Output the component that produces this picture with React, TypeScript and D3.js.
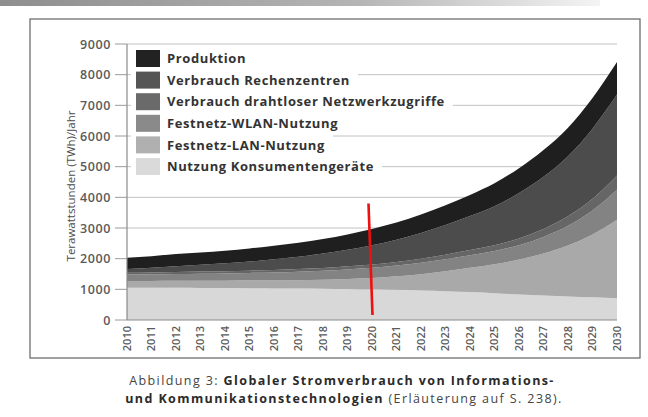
import React, { useEffect, useRef } from "react";
import * as d3 from "d3";

const years = [2010, 2011, 2012, 2013, 2014, 2015, 2016, 2017, 2018, 2019, 2020, 2021, 2022, 2023, 2024, 2025, 2026, 2027, 2028, 2029, 2030];
const konsum = [1050, 1050, 1050, 1045, 1040, 1035, 1030, 1025, 1020, 1010, 1000, 985, 965, 940, 910, 870, 830, 800, 770, 740, 710];
const lan = [220, 225, 230, 235, 240, 250, 260, 275, 295, 330, 370, 440, 530, 650, 790, 950, 1140, 1370, 1660, 2050, 2560];
const wlan = [210, 215, 220, 230, 240, 250, 260, 275, 290, 310, 330, 350, 370, 390, 410, 430, 470, 540, 640, 780, 980];
const drahtlos = [60, 62, 65, 68, 70, 75, 80, 85, 90, 100, 110, 120, 135, 150, 170, 190, 220, 260, 310, 380, 460];
const rechenzentren = [120, 148, 190, 222, 260, 295, 350, 405, 470, 540, 630, 725, 840, 970, 1110, 1270, 1480, 1700, 1960, 2290, 2640];
const produktion = [370, 380, 395, 400, 410, 425, 440, 455, 475, 500, 530, 560, 600, 640, 690, 750, 810, 870, 930, 1000, 1060];

const seriesKeys = ["konsum", "lan", "wlan", "drahtlos", "rechenzentren", "produktion"];
const seriesValues = [konsum, lan, wlan, drahtlos, rechenzentren, produktion];
const seriesColors = ["#d8d8d8", "#a9a9a9", "#838383", "#666666", "#4c4c4c", "#1f1f1f"];
const legendLabels = [
  "Produktion",
  "Verbrauch Rechenzentren",
  "Verbrauch drahtloser Netzwerkzugriffe",
  "Festnetz-WLAN-Nutzung",
  "Festnetz-LAN-Nutzung",
  "Nutzung Konsumentengeräte",
];
const legendColors = ["#222222", "#555555", "#6a6a6a", "#8a8a8a", "#b0b0b0", "#dadada"];
const yTicks = [0, 1000, 2000, 3000, 4000, 5000, 6000, 7000, 8000, 9000];
const markerYear = 2020;
const markerTop = 3800;

export default function App() {
  const ref = useRef<SVGSVGElement | null>(null);

  useEffect(() => {
    const svg = d3.select(ref.current);
    svg.selectAll("*").remove();
    const W = 648, H = 417;
    const left = 127, right = 617, top = 44, bottom = 320;
    const x = d3.scaleLinear().domain([2010, 2030]).range([left, right]);
    const y = d3.scaleLinear().domain([0, 9000]).range([bottom, top]);
    const font = "'Open Sans', 'DejaVu Sans', sans-serif";

    svg.append("rect").attr("width", W).attr("height", H).attr("fill", "#ffffff");

    const defs = svg.append("defs");
    const g1 = defs.append("linearGradient").attr("id", "topbar").attr("x1", "0").attr("x2", "1");
    g1.append("stop").attr("offset", "0").attr("stop-color", "#8e8e8e");
    g1.append("stop").attr("offset", "0.6").attr("stop-color", "#b5b5b5");
    g1.append("stop").attr("offset", "1").attr("stop-color", "#f4f4f4");
    svg.append("rect").attr("x", 0).attr("y", 0).attr("width", 600).attr("height", 6).attr("fill", "url(#topbar)");

    // frame
    svg.append("rect").attr("x", 30).attr("y", 19).attr("width", 610).attr("height", 339)
      .attr("fill", "none").attr("stroke", "#6e6e6e").attr("stroke-width", 1.3);

    // gridlines
    const grid = svg.append("g");
    yTicks.filter((t) => t > 0).forEach((t) => {
      grid.append("line").attr("x1", left).attr("x2", right).attr("y1", y(t)).attr("y2", y(t))
        .attr("stroke", "#c2c2c2").attr("stroke-width", 1);
    });

    // stacked areas
    const rows = years.map((yr, i) => {
      const r: any = { year: yr };
      seriesKeys.forEach((k, j) => (r[k] = seriesValues[j][i]));
      return r;
    });
    const stack = d3.stack().keys(seriesKeys);
    const layers = stack(rows as any);
    const area = d3.area<any>()
      .x((d: any) => x(d.data.year))
      .y0((d: any) => y(d[0]))
      .y1((d: any) => y(d[1]))
      .curve(d3.curveMonotoneX);
    svg.append("g").selectAll("path").data(layers).join("path")
      .attr("d", area as any)
      .attr("fill", (_d: any, i: number) => seriesColors[i]);

    // axes lines
    svg.append("line").attr("x1", left).attr("x2", left).attr("y1", top).attr("y2", bottom)
      .attr("stroke", "#8a8a8a").attr("stroke-width", 1.2);
    svg.append("line").attr("x1", left).attr("x2", right).attr("y1", bottom).attr("y2", bottom)
      .attr("stroke", "#8a8a8a").attr("stroke-width", 1.2);

    // y ticks
    const yt = svg.append("g");
    yTicks.forEach((t) => {
      yt.append("line").attr("x1", 115).attr("x2", left).attr("y1", y(t)).attr("y2", y(t))
        .attr("stroke", "#9a9a9a").attr("stroke-width", 1);
      yt.append("text").attr("x", 111).attr("y", y(t)).attr("dy", "0.36em")
        .attr("text-anchor", "end").attr("font-family", font).attr("font-size", 12.5)
        .attr("font-weight", 600).attr("fill", "#5a5a5a").attr("letter-spacing", 0.6).text(String(t));
    });

    // x ticks
    const xt = svg.append("g");
    years.forEach((yr) => {
      xt.append("text")
        .attr("transform", `translate(${x(yr)},326) rotate(-90)`)
        .attr("dy", "0.36em").attr("text-anchor", "end")
        .attr("font-family", font).attr("font-size", 11).attr("font-weight", 600)
        .attr("fill", "#5a5a5a").text(String(yr));
    });

    // y title
    svg.append("text").attr("transform", `translate(71,186) rotate(-90)`)
      .attr("text-anchor", "middle").attr("dy", "0.36em")
      .attr("font-family", font).attr("font-size", 11.5).attr("fill", "#4a4a4a")
      .text("Terawattstunden (TWh)/Jahr");

    // legend
    const lg = svg.append("g");
    legendLabels.forEach((lab, i) => {
      const cy = 58.5 + i * 21.6;
      const bg = lg.append("rect").attr("x", 131).attr("y", cy - 10.8).attr("height", 21.6).attr("fill", "#ffffff");
      lg.append("rect").attr("x", 136).attr("y", cy - 8.5).attr("width", 24).attr("height", 17)
        .attr("fill", legendColors[i]);
      const tx = lg.append("text").attr("x", 167).attr("y", cy).attr("dy", "0.36em")
        .attr("font-family", font).attr("font-size", 13).attr("font-weight", 700)
        .attr("fill", "#333333").attr("letter-spacing", 0.6).text(lab);
      const w = (tx.node() as SVGTextElement).getComputedTextLength();
      bg.attr("width", 167 + w + 8 - 131);
    });

    // red marker
    svg.append("line")
      .attr("x1", x(markerYear) - 3.5).attr("y1", y(markerTop))
      .attr("x2", x(markerYear) + 0.5).attr("y2", y(0) - 5)
      .attr("stroke", "#ee1010").attr("stroke-width", 2.6);

    // caption
    const cap1 = svg.append("text").attr("x", 342).attr("y", 380).attr("dy", "0.36em")
      .attr("text-anchor", "middle").attr("font-family", font).attr("font-size", 12.5)
      .attr("letter-spacing", 1.4).attr("fill", "#444");
    cap1.append("tspan").text("Abbildung 3: ");
    cap1.append("tspan").attr("font-weight", 700).attr("fill", "#2a2a2a").text("Globaler Stromverbrauch von Informations-");
    const cap2 = svg.append("text").attr("x", 344).attr("y", 398).attr("dy", "0.36em")
      .attr("text-anchor", "middle").attr("font-family", font).attr("font-size", 12.5)
      .attr("letter-spacing", 1.4).attr("fill", "#444");
    cap2.append("tspan").attr("font-weight", 700).attr("fill", "#2a2a2a").text("und Kommunikationstechnologien");
    cap2.append("tspan").text(" (Erläuterung auf S. 238).");
  }, []);

  return (
    <svg ref={ref} width={648} height={417}
      style={{ position: "absolute", left: 0, top: 0, display: "block" }} />
  );
}
